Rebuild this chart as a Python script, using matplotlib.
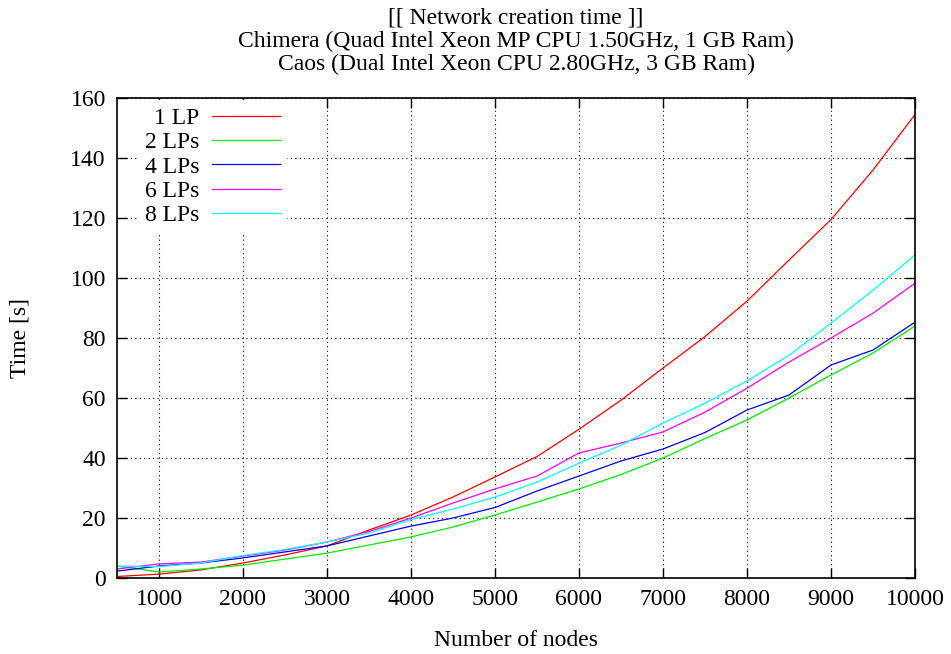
import matplotlib
matplotlib.use("Agg")
import matplotlib.pyplot as plt

nodes = [500, 1000, 1500, 2000, 2500, 3000, 3500, 4000, 4500, 5000,
         5500, 6000, 6500, 7000, 7500, 8000, 8500, 9000, 9500, 10000]
lp1 = [0.5, 1.3, 2.7, 5.0, 7.7, 10.7, 16.0, 21.0, 27.0, 33.7,
       40.5, 49.6, 59.3, 70.0, 80.5, 92.3, 106.0, 119.5, 136.0, 154.5]
lp2 = [4.0, 2.0, 3.0, 4.3, 6.3, 8.3, 11.0, 13.7, 17.0, 21.0,
       25.3, 29.7, 34.5, 40.0, 46.5, 52.7, 60.0, 67.7, 75.0, 84.0]
lp4 = [2.3, 4.0, 5.0, 6.7, 8.7, 10.7, 14.0, 17.3, 20.0, 23.5,
       29.0, 34.0, 39.0, 43.0, 48.5, 56.0, 61.0, 71.0, 76.0, 85.3]
lp6 = [3.0, 4.7, 5.3, 7.3, 9.3, 12.0, 15.5, 20.0, 25.0, 29.7,
       34.0, 41.7, 45.0, 48.7, 55.3, 63.3, 72.0, 80.0, 88.3, 98.3]
lp8 = [4.0, 3.8, 5.0, 7.5, 9.5, 12.0, 15.0, 19.5, 23.0, 27.0,
       32.0, 38.3, 44.3, 51.7, 58.3, 65.7, 74.3, 85.0, 96.0, 107.7]
labels = ["1 LP", "2 LPs", "4 LPs", "6 LPs", "8 LPs"]
colors = ["#ff0000", "#00ee00", "#0000ff", "#ff00ff", "#00ffff"]
xticks = [1000, 2000, 3000, 4000, 5000, 6000, 7000, 8000, 9000, 10000]
yticks = [0, 20, 40, 60, 80, 100, 120, 140, 160]

plt.rcParams['font.family'] = ['Liberation Serif', 'DejaVu Serif']
FS = 17
plt.rcParams['font.size'] = FS

fig = plt.figure(figsize=(9.51, 6.54), dpi=100)
ax = fig.add_axes([117/951, 76/654, (915-117)/951, (578-98)/654])

for ys, lab, c in zip([lp1, lp2, lp4, lp6, lp8], labels, colors):
    ax.plot(nodes, ys, color=c, lw=0.9, label=lab)

ax.set_xlim(500, 10000)
ax.set_ylim(0, 160)
ax.set_xticks(xticks)
ax.set_yticks(yticks)
ax.tick_params(direction='in', top=True, right=True, length=7, width=1, pad=8, labelsize=FS)
ax.grid(True, color='black', linestyle=(0, (1, 3)), linewidth=0.8)
for s in ax.spines.values():
    s.set_linewidth(1.2)

ax.set_xlabel("Number of nodes", fontsize=FS, labelpad=14)
ax.set_ylabel("Time [s]", fontsize=FS, labelpad=29)
ax.set_title("[[ Network creation time ]]\nChimera (Quad Intel Xeon MP CPU 1.50GHz, 1 GB Ram)\nCaos (Dual Intel Xeon CPU 2.80GHz, 3 GB Ram)",
             fontsize=FS, linespacing=1.15, pad=20)

leg = ax.legend(loc='upper left', markerfirst=False, frameon=True, handlelength=2.85,
                handletextpad=0.55, fontsize=FS, labelspacing=0.12,
                bbox_to_anchor=(0.023, 1.0), borderaxespad=0.1, borderpad=0.3,
                fancybox=False)
leg.get_frame().set_facecolor('white')
leg.get_frame().set_edgecolor('none')
leg.get_frame().set_alpha(1.0)
for t in leg.get_texts():
    t.set_ha('right')
leg._legend_box.align = "right"

fig.savefig("out.png", dpi=100)
